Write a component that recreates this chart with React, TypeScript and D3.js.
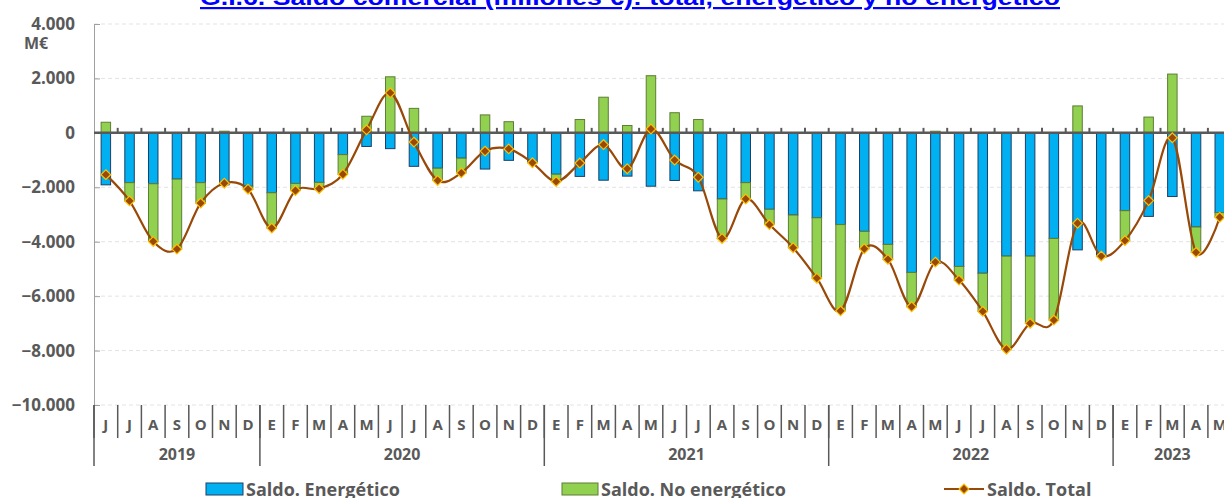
import React, { useEffect, useRef } from 'react';
import * as d3 from 'd3';

// month initials, Jun 2019 .. May 2023
const months = [
  'J', 'J', 'A', 'S', 'O', 'N', 'D',
  'E', 'F', 'M', 'A', 'M', 'J', 'J', 'A', 'S', 'O', 'N', 'D',
  'E', 'F', 'M', 'A', 'M', 'J', 'J', 'A', 'S', 'O', 'N', 'D',
  'E', 'F', 'M', 'A', 'M', 'J', 'J', 'A', 'S', 'O', 'N', 'D',
  'E', 'F', 'M', 'A', 'M',
];
const years = ['2019', '2020', '2021', '2022', '2023'];
const yearMonths = [7, 12, 12, 12, 5];

const energetico = [
  -1910, -1830, -1870, -1700, -1830, -1910, -1960,
  -2200, -1860, -1820, -800, -500, -580, -1230, -1300, -930, -1330, -1010, -1080,
  -1520, -1600, -1740, -1590, -1960, -1750, -2130, -2430, -1830, -2810, -3020, -3120,
  -3370, -3620, -4100, -5130, -4800, -4910, -5160, -4530, -4530, -3880, -4300, -4520,
  -2860, -3070, -2340, -3460, -2930,
];
const noEnergetico = [
  390, -670, -2120, -2570, -750, 60, -110,
  -1300, -260, -230, -720, 610, 2060, 900, -450, -540, 660, 410, -20,
  -270, 490, 1310, 270, 2100, 740, 490, -1450, -600, -560, -1200, -2220,
  -3170, -640, -550, -1260, 60, -500, -1400, -3420, -2470, -3000, 990, -10,
  -1100, 580, 2160, -930, -170,
];
const total = [
  -1535, -2500, -3990, -4270, -2580, -1850, -2070,
  -3500, -2120, -2050, -1520, 110, 1470, -340, -1750, -1470, -670, -590, -1100,
  -1790, -1110, -430, -1320, 140, -1000, -1630, -3880, -2430, -3370, -4220, -5340,
  -6540, -4260, -4650, -6390, -4750, -5410, -6560, -7950, -7000, -6880, -3320, -4530,
  -3960, -2490, -180, -4390, -3100,
];
const yTicks = [4000, 2000, 0, -2000, -4000, -6000, -8000, -10000];

const W = 1224;
const H = 498;
const FONT = '"Open Sans", "Liberation Sans", sans-serif';
const GREY = '#595959';

const App = () => {
  const svgRef = useRef<SVGSVGElement>(null);

  useEffect(() => {
    const svg = d3.select(svgRef.current);
    svg.selectAll('*').remove();

    const margin = { left: 94, top: 24, bottom: 405 };
    const step = 23.7;
    const n = months.length;

    const x = d3.scaleBand<number>()
      .domain(d3.range(n))
      .range([margin.left, margin.left + n * step])
      .paddingInner(0.6)
      .paddingOuter(0.3);
    const y = d3.scaleLinear().domain([-10000, 4000]).range([margin.bottom, margin.top]);
    const fmt = (v: number) => d3.format(',')(v).replace(/,/g, '.');

    // title (partly cut off at the top)
    svg.append('text')
      .attr('x', 630).attr('y', 5)
      .attr('text-anchor', 'middle')
      .attr('textLength', 860)
      .attr('lengthAdjust', 'spacingAndGlyphs')
      .style('font-family', '"Liberation Sans", Arial, sans-serif')
      .style('font-weight', 'bold')
      .style('font-size', '22px')
      .style('fill', '#0000FF')
      .style('text-decoration', 'underline')
      .text('G.I.6. Saldo comercial (millones €): total, energético y no energético');

    // gridlines
    svg.append('g')
      .selectAll('line')
      .data(yTicks.filter(d => d !== 0))
      .enter()
      .append('line')
      .attr('x1', margin.left).attr('x2', W)
      .attr('y1', d => y(d)).attr('y2', d => y(d))
      .attr('stroke', '#E3E3E3')
      .attr('stroke-dasharray', '4,3')
      .attr('stroke-width', 1);

    // y axis
    const yAxis = svg.append('g')
      .attr('transform', `translate(${margin.left},0)`)
      .call(d3.axisRight(y).tickValues(yTicks).tickSize(6).tickFormat(() => ''));
    yAxis.select('.domain').attr('stroke', '#A0A0A0');
    yAxis.selectAll('.tick line').attr('stroke', '#A0A0A0');

    svg.append('g')
      .selectAll('text')
      .data(yTicks)
      .enter()
      .append('text')
      .attr('x', 75)
      .attr('y', d => y(d))
      .attr('dy', '0.35em')
      .attr('text-anchor', 'end')
      .style('font-family', FONT)
      .style('font-weight', 'bold')
      .style('font-size', '17px')
      .style('fill', GREY)
      .text(d => fmt(d));

    svg.append('text')
      .attr('x', 24).attr('y', 49)
      .style('font-family', FONT)
      .style('font-weight', 'bold')
      .style('font-size', '16px')
      .style('fill', GREY)
      .text('M€');

    // stacked bars
    const rows = months.map((m, i) => ({ i, ene: energetico[i], noe: noEnergetico[i] }));
    const series = d3.stack<any>()
      .keys(['ene', 'noe'])
      .offset(d3.stackOffsetDiverging)(rows);
    const fills = ['#00B0F0', '#92D050'];
    const strokes = ['#1F3F66', '#5E7D35'];

    series.forEach((s, k) => {
      svg.append('g')
        .selectAll('rect')
        .data(s)
        .enter()
        .append('rect')
        .attr('x', d => x(d.data.i)!)
        .attr('width', x.bandwidth())
        .attr('y', d => y(Math.max(d[0], d[1])))
        .attr('height', d => Math.abs(y(d[0]) - y(d[1])))
        .attr('fill', fills[k])
        .attr('stroke', strokes[k])
        .attr('stroke-width', 1);
    });

    // zero line with category ticks
    svg.append('line')
      .attr('x1', margin.left).attr('x2', W)
      .attr('y1', y(0)).attr('y2', y(0))
      .attr('stroke', GREY).attr('stroke-width', 2.5);
    svg.append('g')
      .selectAll('line')
      .data(d3.range(1, n + 1))
      .enter()
      .append('line')
      .attr('x1', d => margin.left + d * step).attr('x2', d => margin.left + d * step)
      .attr('y1', y(0)).attr('y2', y(0) - 5)
      .attr('stroke', GREY).attr('stroke-width', 2);

    // total line
    const cx = (i: number) => x(i)! + x.bandwidth() / 2;
    const line = d3.line<number>()
      .x((d, i) => cx(i))
      .y(d => y(d))
      .curve(d3.curveCardinal.tension(0));
    svg.append('path')
      .datum(total)
      .attr('d', line)
      .attr('fill', 'none')
      .attr('stroke', '#984807')
      .attr('stroke-width', 2.2);

    const diamond = d3.symbol().type(d3.symbolDiamond2).size(60);
    svg.append('g')
      .selectAll('path')
      .data(total)
      .enter()
      .append('path')
      .attr('d', diamond)
      .attr('transform', (d, i) => `translate(${cx(i)},${y(d)})`)
      .attr('fill', '#984807')
      .attr('stroke', '#FFC000')
      .attr('stroke-width', 1.2);

    // category axis: months + years
    const axis = svg.append('g');
    axis.selectAll('line.m')
      .data(d3.range(0, n + 1))
      .enter()
      .append('line')
      .attr('x1', d => margin.left + d * step).attr('x2', d => margin.left + d * step)
      .attr('y1', margin.bottom).attr('y2', 438)
      .attr('stroke', GREY).attr('stroke-width', 1.5);
    axis.selectAll('text.m')
      .data(months)
      .enter()
      .append('text')
      .attr('x', (d, i) => cx(i))
      .attr('y', 430)
      .attr('text-anchor', 'middle')
      .style('font-family', FONT)
      .style('font-weight', 'bold')
      .style('font-size', '15px')
      .style('fill', GREY)
      .text(d => d);

    const starts = yearMonths.map((c, k) => d3.sum(yearMonths.slice(0, k)));
    axis.selectAll('line.y')
      .data(starts)
      .enter()
      .append('line')
      .attr('x1', d => margin.left + d * step).attr('x2', d => margin.left + d * step)
      .attr('y1', margin.bottom).attr('y2', 466)
      .attr('stroke', GREY).attr('stroke-width', 1.5);
    axis.selectAll('text.y')
      .data(years)
      .enter()
      .append('text')
      .attr('x', (d, k) => margin.left + (starts[k] + yearMonths[k] / 2) * step)
      .attr('y', 460)
      .attr('text-anchor', 'middle')
      .style('font-family', FONT)
      .style('font-weight', 'bold')
      .style('font-size', '16px')
      .style('fill', GREY)
      .text(d => d);

    // legend
    const lg = svg.append('g').style('font-family', FONT).style('font-weight', 'bold')
      .style('font-size', '18px').style('fill', GREY);
    lg.append('rect').attr('x', 206).attr('y', 483).attr('width', 37).attr('height', 12)
      .attr('fill', fills[0]).attr('stroke', strokes[0]);
    lg.append('text').attr('x', 246).attr('y', 496).text('Saldo. Energético');
    lg.append('rect').attr('x', 562).attr('y', 483).attr('width', 36).attr('height', 12)
      .attr('fill', fills[1]).attr('stroke', strokes[1]);
    lg.append('text').attr('x', 601).attr('y', 496).text('Saldo. No energético');
    lg.append('line').attr('x1', 944).attr('x2', 984).attr('y1', 489).attr('y2', 489)
      .attr('stroke', '#984807').attr('stroke-width', 2.2);
    lg.append('path').attr('d', diamond).attr('transform', 'translate(964,489)')
      .attr('fill', '#984807').attr('stroke', '#FFC000').attr('stroke-width', 1.2);
    lg.append('text').attr('x', 987).attr('y', 496).text('Saldo. Total');
  }, []);

  return (
    <svg
      ref={svgRef}
      width={W}
      height={H}
      style={{ position: 'fixed', left: 0, top: 0, background: '#fff', display: 'block' }}
    />
  );
};

export default App;
